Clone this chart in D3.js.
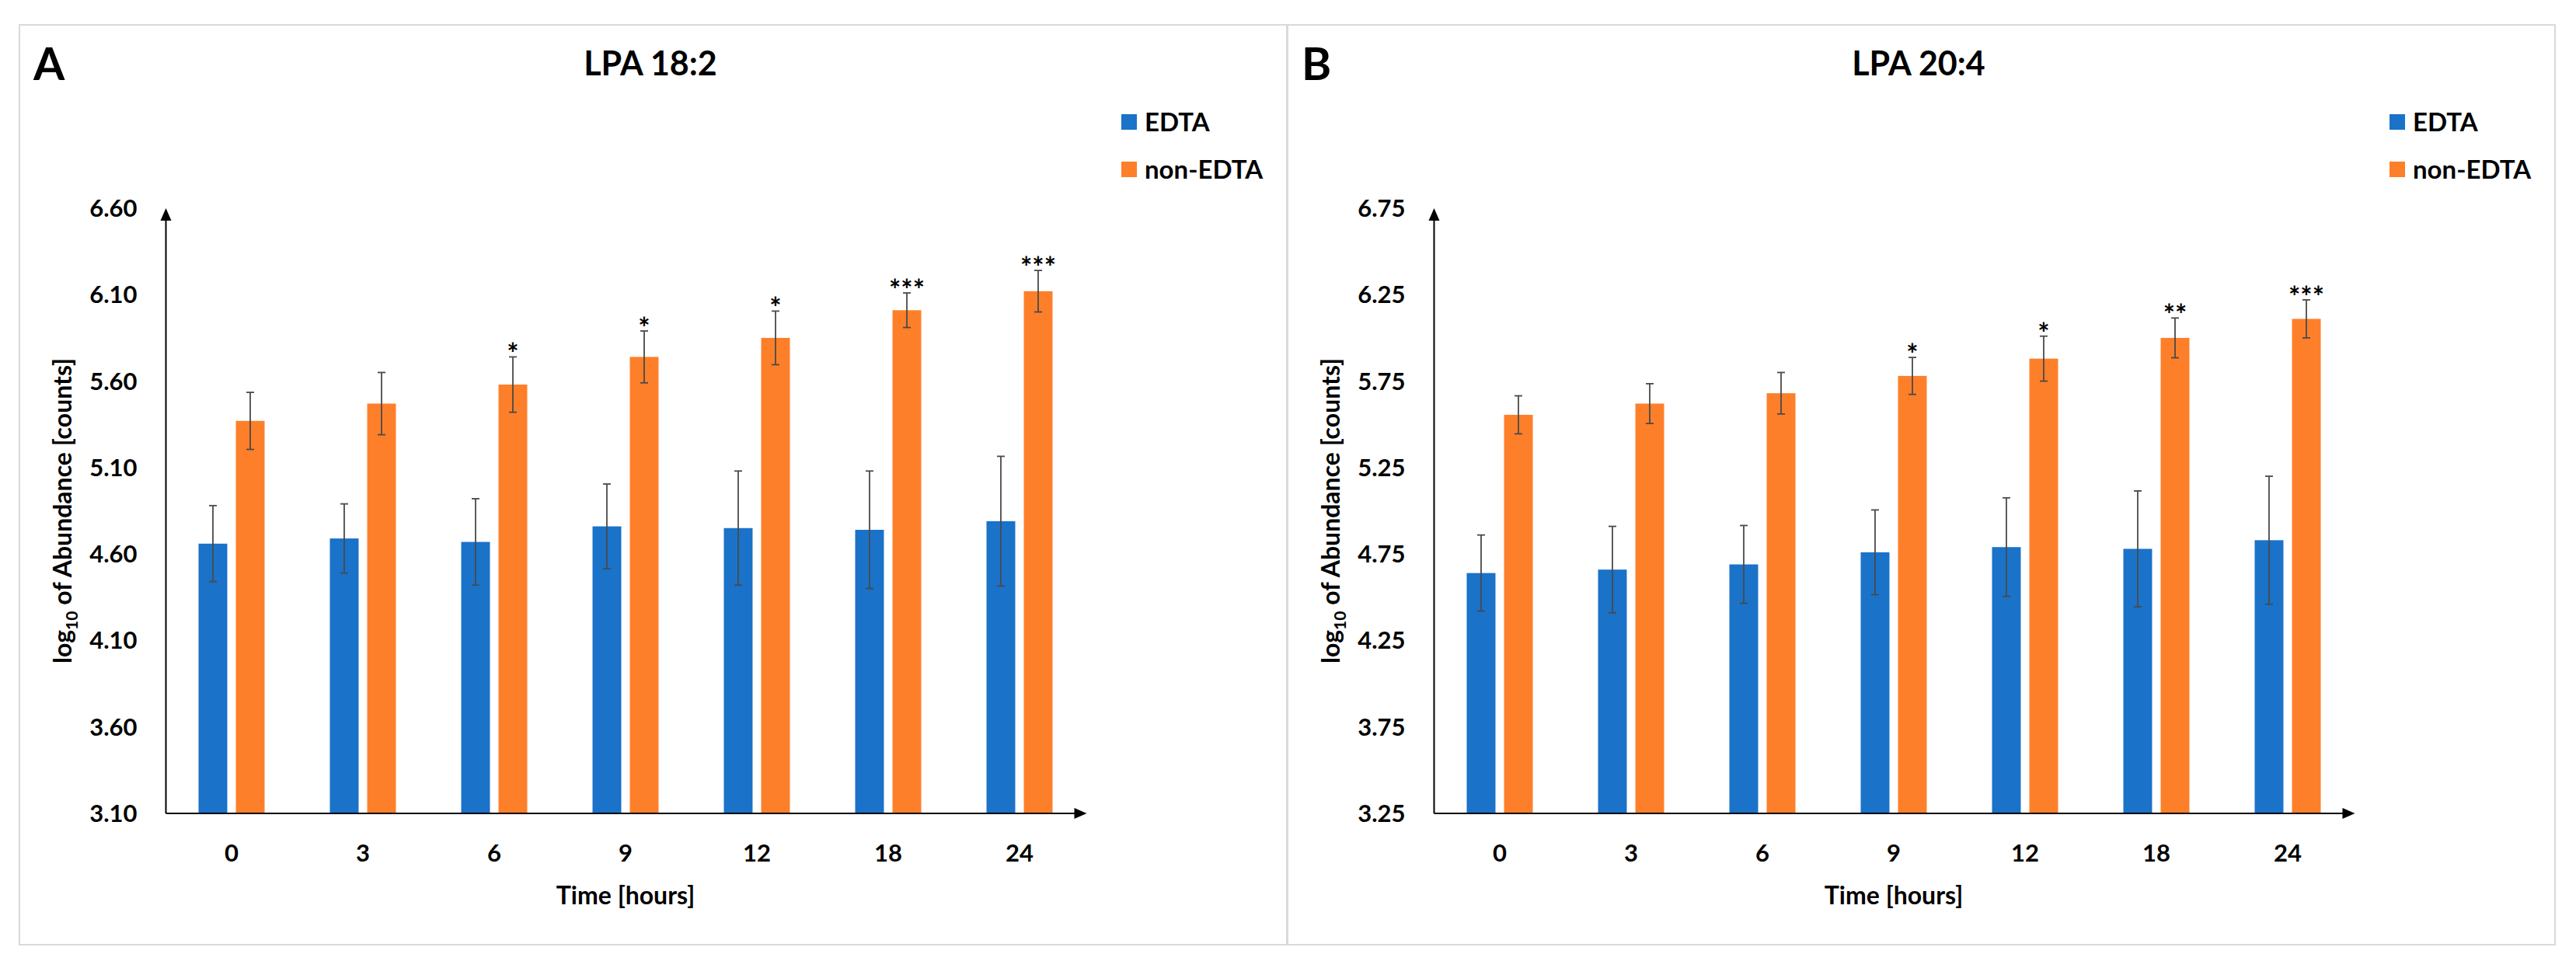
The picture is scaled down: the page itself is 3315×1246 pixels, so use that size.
<!DOCTYPE html>
<html>
<head>
<meta charset="utf-8">
<script src="https://cdn.jsdelivr.net/npm/d3@7"></script>
<style>
  body { margin: 0; background: #fff; }
  text { font-family: Lato, "Open Sans", sans-serif; font-weight: bold; fill: #000; }
</style>
</head>
<body>
<svg id="surface" width="3315" height="1246"></svg>
<script>
// data
const times = ["0", "3", "6", "9", "12", "18", "24"];
const seriesNames = ["EDTA", "non-EDTA"];
const seriesColors = ["#1a72c9", "#fe7f2a"];

const edtaA = [4.66, 4.69, 4.67, 4.76, 4.75, 4.74, 4.79];
const edtaErrA = [0.22, 0.20, 0.25, 0.245, 0.33, 0.34, 0.375];
const nonEdtaA = [5.37, 5.47, 5.58, 5.74, 5.85, 6.01, 6.12];
const nonEdtaErrA = [0.165, 0.18, 0.16, 0.15, 0.155, 0.10, 0.12];
const starsA = ["", "", "*", "*", "*", "***", "***"];
const ticksA = [3.10, 3.60, 4.10, 4.60, 5.10, 5.60, 6.10, 6.60];

const edtaB = [4.64, 4.66, 4.69, 4.76, 4.79, 4.78, 4.83];
const edtaErrB = [0.22, 0.25, 0.225, 0.245, 0.285, 0.335, 0.37];
const nonEdtaB = [5.555, 5.62, 5.68, 5.78, 5.88, 6.0, 6.11];
const nonEdtaErrB = [0.11, 0.115, 0.12, 0.107, 0.13, 0.115, 0.11];
const starsB = ["", "", "", "*", "*", "**", "***"];
const ticksB = [3.25, 3.75, 4.25, 4.75, 5.25, 5.75, 6.25, 6.75];

const svg = d3.select("#surface");

drawPanel(25, "A", "LPA 18:2", [edtaA, nonEdtaA], [edtaErrA, nonEdtaErrA], starsA, ticksA);
drawPanel(1657, "B", "LPA 20:4", [edtaB, nonEdtaB], [edtaErrB, nonEdtaErrB], starsB, ticksB);

function drawPanel(ox, letter, title, values, errs, stars, ticks) {
  const g = svg.append("g").attr("transform", `translate(${ox},0)`);

  // panel frame
  g.append("rect")
    .attr("x", 0).attr("y", 32)
    .attr("width", 1631).attr("height", 1184)
    .attr("fill", "none").attr("stroke", "#d9d9d9").attr("stroke-width", 2);

  g.append("text").attr("x", 18).attr("y", 103)
    .style("font-size", "58px").text(letter);
  g.append("text").attr("x", 812).attr("y", 97)
    .attr("text-anchor", "middle").style("font-size", "43px").text(title);

  // scales
  const x0 = 188.5, x1 = x0 + 7 * 169;
  const x = d3.scaleBand().domain(times).range([x0, x1]);
  const xs = d3.scaleBand().domain(seriesNames).range([42, 127]).paddingInner(0.23);
  const y = d3.scaleLinear().domain([ticks[0], ticks[ticks.length - 1]]).range([1047, 268]);

  // bars
  seriesNames.forEach((s, si) => {
    const grp = g.append("g");
    grp.selectAll("rect").data(values[si]).join("rect")
      .attr("x", (d, i) => x(times[i]) + xs(s))
      .attr("y", d => y(d))
      .attr("width", xs.bandwidth())
      .attr("height", d => y(ticks[0]) - y(d))
      .attr("fill", seriesColors[si]);

    // error bars
    const eb = g.append("g").attr("stroke", "#4a4a4a").attr("stroke-width", 1.8);
    values[si].forEach((v, i) => {
      const cx = x(times[i]) + xs(s) + xs.bandwidth() / 2;
      const top = y(v + errs[si][i]), bot = y(v - errs[si][i]);
      eb.append("line").attr("x1", cx).attr("x2", cx).attr("y1", top).attr("y2", bot);
      eb.append("line").attr("x1", cx - 5).attr("x2", cx + 5).attr("y1", top).attr("y2", top);
      eb.append("line").attr("x1", cx - 5).attr("x2", cx + 5).attr("y1", bot).attr("y2", bot);
    });
  });

  // significance stars above non-EDTA error bars
  g.selectAll(".star").data(stars).join("text")
    .attr("class", "star")
    .attr("x", (d, i) => x(times[i]) + xs("non-EDTA") + xs.bandwidth() / 2)
    .attr("y", (d, i) => y(values[1][i] + errs[1][i]) + 9)
    .attr("text-anchor", "middle")
    .style("font-size", "36px")
    .text(d => d);

  // axes
  g.append("line").attr("x1", x0).attr("x2", x0).attr("y1", y(ticks[0])).attr("y2", 280)
    .attr("stroke", "#000").attr("stroke-width", 2);
  g.append("path")
    .attr("d", `M${x0},${y(ticks[ticks.length - 1])} l-7,16 l14,0 Z`).attr("fill", "#000");
  g.append("line").attr("x1", x0).attr("x2", x1 - 10).attr("y1", y(ticks[0])).attr("y2", y(ticks[0]))
    .attr("stroke", "#000").attr("stroke-width", 2);
  g.append("path")
    .attr("d", `M${x1 + 2},${y(ticks[0])} l-16,-7 l0,14 Z`).attr("fill", "#000");

  g.selectAll(".ytick").data(ticks).join("text")
    .attr("class", "ytick")
    .attr("x", x0 - 37).attr("y", d => y(d) + 11)
    .attr("text-anchor", "end").style("font-size", "31px")
    .text(d => d3.format(".2f")(d));

  g.selectAll(".xtick").data(times).join("text")
    .attr("class", "xtick")
    .attr("x", d => x(d) + x.bandwidth() / 2).attr("y", 1109)
    .attr("text-anchor", "middle").style("font-size", "31px")
    .text(d => d);

  g.append("text").attr("x", (x0 + x1) / 2).attr("y", 1164)
    .attr("text-anchor", "middle").style("font-size", "32px").text("Time [hours]");

  const yt = g.append("text")
    .attr("transform", `translate(67,${(y.range()[0] + y.range()[1]) / 2}) rotate(-90)`)
    .attr("text-anchor", "middle").style("font-size", "32px");
  yt.append("tspan").text("log");
  yt.append("tspan").attr("dy", 8).style("font-size", "21px").text("10");
  yt.append("tspan").attr("dy", -8).text(" of Abundance [counts]");

  // legend
  const lg = g.append("g");
  seriesNames.forEach((s, i) => {
    lg.append("rect").attr("x", 1418).attr("y", 147 + i * 61)
      .attr("width", 20).attr("height", 20).attr("fill", seriesColors[i]);
    lg.append("text").attr("x", 1448).attr("y", 169 + i * 61)
      .style("font-size", "33px").text(s);
  });
}
</script>
</body>
</html>
